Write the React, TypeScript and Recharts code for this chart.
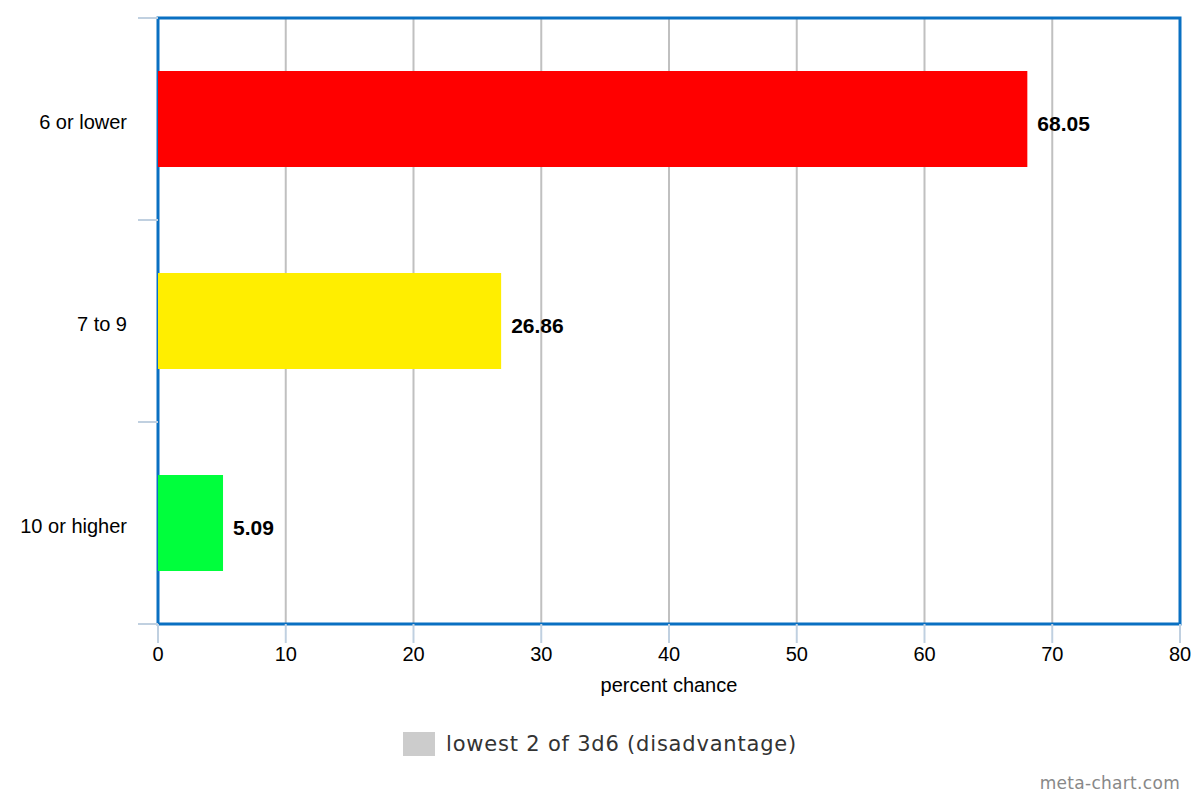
import { Bar, BarChart, CartesianGrid, Cell, LabelList, Legend, ReferenceArea, XAxis, YAxis } from "recharts";

const categories = ["6 or lower", "7 to 9", "10 or higher"];
const values = [68.05, 26.86, 5.09];
const barColors = ["#ff0000", "#ffee00", "#00ff3c"];
const xTicks = [0, 10, 20, 30, 40, 50, 60, 70, 80];
const seriesName = "lowest 2 of 3d6 (disadvantage)";
const xTitle = "percent chance";

const data = categories.map((name, i) => ({ name, value: values[i] }));

const axisColor = "#c0d0e0";
const font = "'Liberation Sans', Arial, sans-serif";

// category labels at band centres, tick marks at band edges
function CategoryTick(props: any) {
  const { x, y, payload, index, visibleTicksCount } = props;
  const half = payload?.offset ?? 101;
  const x2 = x + 13 + 18;
  const x1 = x2 - 20;
  const last = index === visibleTicksCount - 1;
  return (
    <g>
      <text x={x} y={y} dy={3} textAnchor="end" dominantBaseline="central" fontSize={20} fontFamily={font} fill="#000">
        {payload.value}
      </text>
      <line x1={x1} x2={x2} y1={y - half} y2={y - half} stroke={axisColor} strokeWidth={2} />
      {last && <line x1={x1} x2={x2} y1={y + half} y2={y + half} stroke={axisColor} strokeWidth={2} />}
    </g>
  );
}

function ValueLabel(props: any) {
  const { x, y, width, height, value } = props;
  return (
    <text
      x={x + width + 10}
      y={y + height / 2}
      dy={4}
      dominantBaseline="central"
      fontSize={21}
      fontWeight="bold"
      fontFamily={font}
      fill="#000"
    >
      {Number(value).toFixed(2)}
    </text>
  );
}

function LegendBox() {
  return (
    <div style={{ display: "flex", justifyContent: "center", alignItems: "center", height: 40 }}>
      <div style={{ width: 32, height: 24, background: "#cccccc", marginRight: 11 }} />
      <span style={{ fontFamily: "'DejaVu Sans', sans-serif", fontSize: 21, letterSpacing: 0.8, color: "#333" }}>
        {seriesName}
      </span>
    </div>
  );
}

export default function App() {
  return (
    <div style={{ position: "absolute", left: 0, top: 0, width: 1200, height: 800, background: "#fff" }}>
      <BarChart
        width={1200}
        height={800}
        data={data}
        layout="vertical"
        margin={{ top: 18, right: 20, bottom: 36, left: 18 }}
      >
        <CartesianGrid horizontal={false} stroke="#c0c0c0" strokeWidth={2} />
        <XAxis
          type="number"
          domain={[0, 80]}
          ticks={xTicks}
          interval={0}
          height={100}
          tickSize={19}
          tickMargin={4}
          stroke={axisColor}
          tickLine={{ stroke: axisColor, strokeWidth: 2 }}
          axisLine={false}
          tick={{ fontSize: 20, fontFamily: font, fill: "#000" }}
          label={{ value: xTitle, position: "insideTop", offset: 54, fontSize: 20, fontFamily: font, fill: "#000" }}
        />
        <YAxis
          type="category"
          dataKey="name"
          width={140}
          tickSize={18}
          tickMargin={13}
          tickLine={false}
          axisLine={false}
          tick={<CategoryTick />}
          interval={0}
        />
        <Legend
          verticalAlign="bottom"
          content={() => <LegendBox />}
          wrapperStyle={{ left: 0, width: 1200, height: 40 }}
        />
        <Bar dataKey="value" name={seriesName} barSize={96} isAnimationActive={false}>
          {data.map((d, i) => (
            <Cell key={d.name} fill={barColors[i]} />
          ))}
          <LabelList dataKey="value" content={<ValueLabel />} />
        </Bar>
        <ReferenceArea x1={0} x2={80} stroke="#0a70c2" strokeWidth={3} fill="none" fillOpacity={0} ifOverflow="visible" />
      </BarChart>
      <div
        style={{
          position: "absolute",
          right: 20,
          top: 773,
          fontFamily: "'DejaVu Sans', sans-serif",
          fontSize: 17,
          letterSpacing: 0.3,
          color: "#888",
        }}
      >
        meta-chart.com
      </div>
    </div>
  );
}
